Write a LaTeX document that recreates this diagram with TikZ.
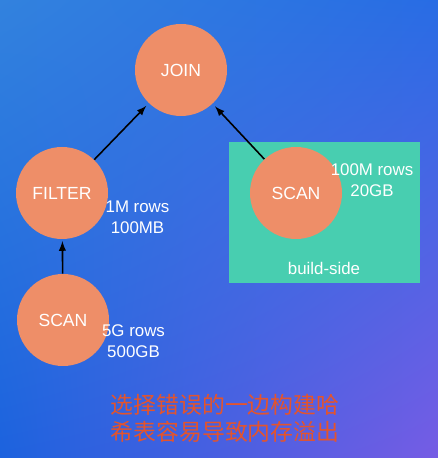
\documentclass[tikz,border=0pt]{standalone}
\usepackage{fontspec}
\setmainfont{Liberation Sans}
\newfontfamily\cjk{Noto Sans CJK SC}
\usepackage{tikz}
\usetikzlibrary{arrows,shadings}
\definecolor{bgtl}{RGB}{50,130,222}
\definecolor{bgtr}{RGB}{40,108,228}
\definecolor{bgbl}{RGB}{28,98,222}
\definecolor{bgbr}{RGB}{118,92,228}
\definecolor{salmon}{RGB}{238,142,104}
\definecolor{buildgreen}{RGB}{72,206,176}
\definecolor{warnred}{RGB}{228,84,44}
\tikzset{
  op/.style={circle, fill=salmon, minimum size=1.84cm, inner sep=0pt,
    text=white, font=\fontsize{10}{12}\selectfont},
  info/.style={text=white, align=center, font=\fontsize{9.6}{12}\selectfont},
  flow/.style={-latex, line width=0.9pt, black}
}

\begin{document}
\begin{tikzpicture}
% background
\shade[upper left=bgtl, upper right=bgtr, lower left=bgbl, lower right=bgbr]
  (0,0) rectangle (8.76,9.16);
\useasboundingbox (0,0) rectangle (8.76,9.16);

% build side
\fill[buildgreen] (4.58,3.5) rectangle (8.40,6.32);
\node[info] (build) at (6.48,3.80) {build-side};

% operators
\node[op] (join) at (3.62,7.76) {JOIN};
\node[op] (filter) at (1.24,5.30) {FILTER};
\node[op] (scanl) at (1.26,2.76) {SCAN};
\node[op] (scanr) at (5.92,5.30) {SCAN};

% sizes
\node[info] (filtersize) at (2.75,4.82) {1M rows\\100MB};
\node[info] (scanrsize) at (7.44,5.56) {100M rows\\20GB};
\node[info] (scanlsize) at (2.67,2.34) {5G rows\\500GB};

% edges
\draw[flow, shorten >=2pt] (filter) -- (join);
\draw[flow, shorten >=2pt] (scanr) -- (join);
\draw[flow, shorten >=1pt] (scanl) -- (filter);

% note
\node[text=warnred, align=center, font=\cjk\fontsize{13}{15.5}\selectfont] (note)
  at (4.5,0.79) {选择错误的一边构建哈\\希表容易导致内存溢出};
\end{tikzpicture}
\end{document}
